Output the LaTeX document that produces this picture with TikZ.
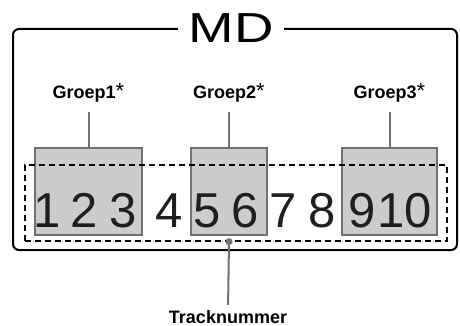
\documentclass[tikz,border=0pt]{standalone}
\usepackage{fontspec}
\setmainfont{Liberation Sans}
\usetikzlibrary{positioning,calc}
\definecolor{mdgrey}{RGB}{112,112,112}
\definecolor{mdfill}{RGB}{204,204,204}
\tikzset{
  mdframe/.style ={draw=black, line width=2pt, rounded corners=6pt},
  mdtitle/.style ={fill=white, font=\fontsize{42}{42}\selectfont,
                   inner xsep=11pt, inner ysep=0pt},
  grpbox/.style  ={rectangle, draw=mdgrey, fill=mdfill, line width=2.2pt,
                   inner sep=0pt},
  grplabel/.style={font=\fontsize{18}{18}\selectfont\bfseries, inner sep=0pt,
                   anchor=base},
  grpline/.style ={draw=mdgrey, line width=2pt},
  trknum/.style  ={font=\fontsize{49}{49}\selectfont, text=black!88,
                   inner sep=0pt, anchor=base},
  trkarea/.style ={rectangle, draw=black, line width=1.3pt,
                   dash pattern=on 6pt off 4pt, inner sep=0pt},
}
\newcommand{\grpster}{{\mdseries\fontsize{22}{22}\selectfont*}}

\begin{document}
\begin{tikzpicture}[x=1pt, y=-1pt]
\useasboundingbox (0,0) rectangle (460,326);
% frame with title
\draw[mdframe] (13,29) rectangle (457,250);
\node[mdtitle] (md) at (231,28) {\scalebox{1.3}[1]{MD}};
% groups
\node[grpbox, minimum width=107pt, minimum height=87pt] (b1) at (88.5,191.5) {};
\node[grpbox, minimum width=76pt,  minimum height=87pt] (b2) at (229,191.5) {};
\node[grpbox, minimum width=95pt,  minimum height=87pt] (b3) at (389.5,191.5) {};
\foreach \i in {1,2,3}{
  \node[grplabel] (g\i) at ($(b\i.north)+(0,-48)$) {Groep\i\grpster};
  \draw[grpline, shorten <=9pt] (g\i.south -| b\i.north) -- (b\i.north);
}
% track numbers
\foreach \n/\x in {1/47,2/84,3/123,4/169,5/207,6/245,7/283,8/322,9/362,10/405}
  \node[trknum] (t\n) at (\x,227) {\n};
\node[trkarea, minimum width=422pt, minimum height=76pt] (area) at (236,203) {};
% pointer to the numbers
\coordinate (dot) at (b2.south |- area.south);
\node[grplabel] (trk) at (228,323) {Tracknummer};
\draw[grpline, shorten >=5pt] (dot) -- (trk.north);
\fill[mdgrey] (dot) circle (3.5pt);
\end{tikzpicture}
\end{document}
